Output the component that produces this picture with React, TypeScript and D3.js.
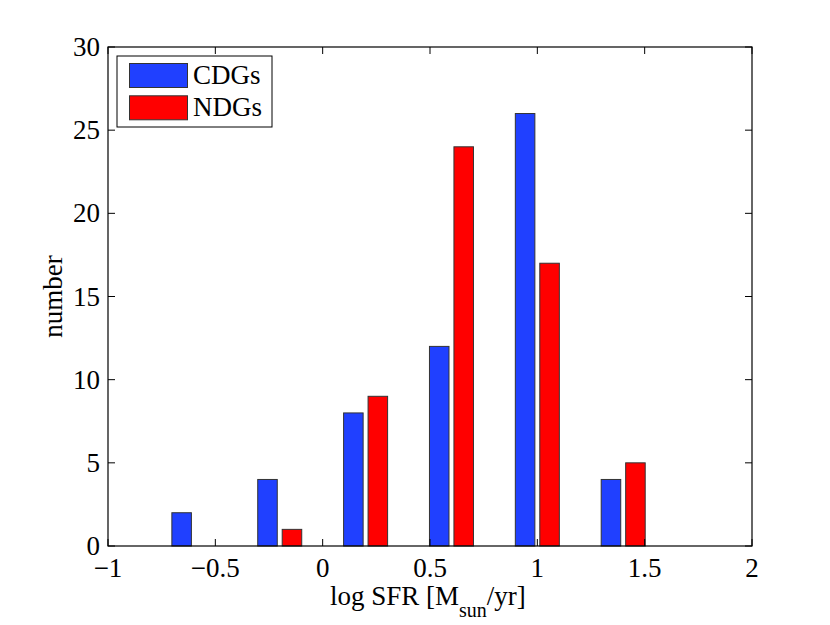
import React from "react";
import * as d3 from "d3";

const binCenters = [-0.6, -0.2, 0.2, 0.6, 1.0, 1.4];
const cdgCounts = [2, 4, 8, 12, 26, 4];
const ndgCounts = [0, 1, 9, 24, 17, 5];
const xTicks = [-1, -0.5, 0, 0.5, 1, 1.5, 2];
const yTicks = [0, 5, 10, 15, 20, 25, 30];
const seriesNames = ["CDGs", "NDGs"];
const seriesColors = ["#2040ff", "#ff0000"];

const W = 830, H = 625;
const left = 108, right = 752, top = 47, bottom = 546;

export default function App() {
  const x = d3.scaleLinear().domain([-1, 2]).range([left, right]);
  const y = d3.scaleLinear().domain([0, 30]).range([bottom, top]);
  const offset = 0.057;
  const bw = 0.091;
  const font = "'Liberation Serif', 'Times New Roman', serif";
  const fs = 27;
  const series = [cdgCounts, ndgCounts];
  const fmt = (v: number) => (v < 0 ? "\u2212" + Math.abs(v) : String(v));
  return (
    <svg width={W} height={H} style={{ position: "absolute", left: 0, top: 0, background: "#fff" }}>
      {series.map((vals, si) =>
        vals.map((v, i) => {
          if (v <= 0) return null;
          const c = binCenters[i] + (si === 0 ? -offset : offset);
          const x0 = x(c - bw / 2), x1 = x(c + bw / 2);
          return (
            <rect key={si + "-" + i} x={x0} y={y(v)} width={x1 - x0} height={y(0) - y(v)}
              fill={seriesColors[si]} stroke="#333" strokeWidth={1} />
          );
        })
      )}
      <rect x={left} y={top} width={right - left} height={bottom - top} fill="none" stroke="#000" strokeWidth={1.2} />
      {xTicks.map((t) => (
        <g key={"x" + t}>
          <line x1={x(t)} x2={x(t)} y1={bottom} y2={bottom - 7} stroke="#000" />
          <line x1={x(t)} x2={x(t)} y1={top} y2={top + 7} stroke="#000" />
          <text x={x(t)} y={577} textAnchor="middle" fontFamily={font} fontSize={fs}>{fmt(t)}</text>
        </g>
      ))}
      {yTicks.map((t) => (
        <g key={"y" + t}>
          <line x1={left} x2={left + 7} y1={y(t)} y2={y(t)} stroke="#000" />
          <line x1={right} x2={right - 7} y1={y(t)} y2={y(t)} stroke="#000" />
          <text x={100} y={y(t) + 9} textAnchor="end" fontFamily={font} fontSize={fs}>{t}</text>
        </g>
      ))}
      <text x={330} y={605} textAnchor="start" fontFamily={font} fontSize={fs}>
        log SFR [M<tspan fontSize={20} dy={12}>sun</tspan><tspan dy={-12}>/yr]</tspan>
      </text>
      <text transform={`translate(62,${(top + bottom) / 2}) rotate(-90)`} textAnchor="middle" fontFamily={font} fontSize={fs}>number</text>
      <rect x={117} y={56} width={155} height={71} fill="#fff" stroke="#000" strokeWidth={1} />
      {seriesNames.map((n, i) => (
        <g key={n}>
          <rect x={129.5} y={63.5 + i * 32.3} width={58} height={24} fill={seriesColors[i]} stroke="#333" strokeWidth={1} />
          <text x={193} y={84 + i * 32} fontFamily={font} fontSize={fs}>{n}</text>
        </g>
      ))}
    </svg>
  );
}
